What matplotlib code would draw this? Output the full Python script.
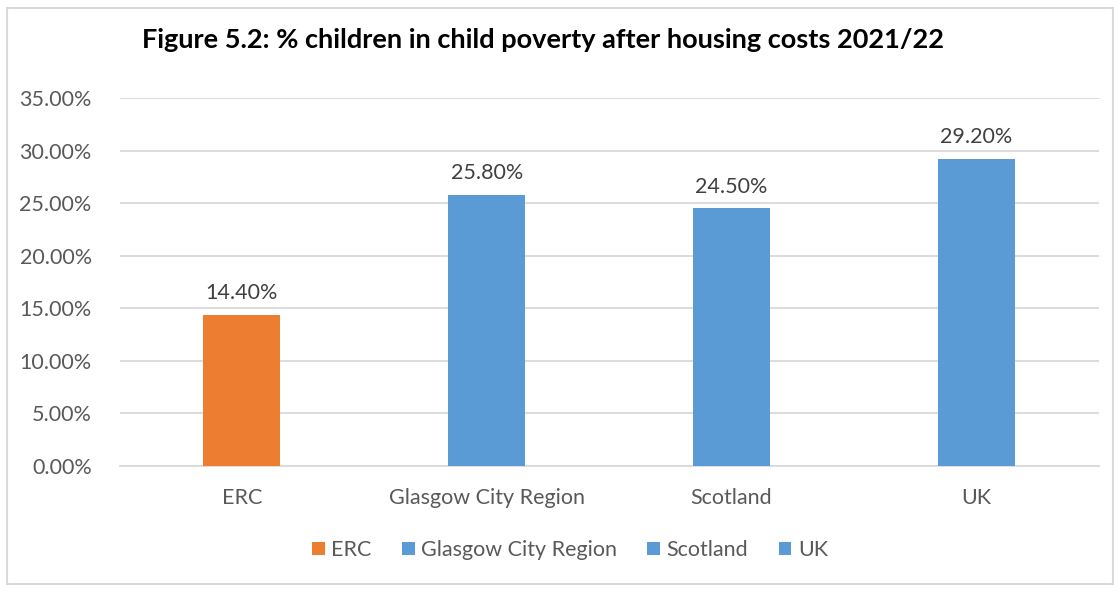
import matplotlib.pyplot as plt
from matplotlib.patches import Rectangle
from matplotlib.ticker import FuncFormatter

categories = ["ERC", "Glasgow City Region", "Scotland", "UK"]
values = [14.40, 25.80, 24.50, 29.20]
colors = ["#ED7D31", "#5B9BD5", "#5B9BD5", "#5B9BD5"]
yticks = [0, 5, 10, 15, 20, 25, 30, 35]

plt.rcParams['font.family'] = ['Lato', 'DejaVu Sans']

fig = plt.figure(figsize=(11.2, 5.92), dpi=100)
ax = fig.add_axes([119.5 / 1120, 1 - 466 / 592, 979 / 1120, 368 / 592])

for i, (cat, val, col) in enumerate(zip(categories, values, colors)):
    ax.bar(i, val, width=0.315, color=col, label=cat, zorder=3)
    ax.text(i, val + 1.1, f"{val:.2f}%", ha="center", va="bottom",
            fontsize=15.5, color="#404040")

ax.set_xlim(-0.5, len(categories) - 0.5)
ax.set_ylim(0, 35)
ax.set_yticks(yticks)
ax.yaxis.set_major_formatter(FuncFormatter(lambda v, p: f"{v:.2f}%"))
ax.set_xticks(range(len(categories)))
ax.set_xticklabels(categories)
ax.tick_params(axis="both", length=0, labelsize=15.5, labelcolor="#595959")
ax.tick_params(axis="y", pad=20)
ax.tick_params(axis="x", pad=16)
ax.grid(axis="y", color="#D9D9D9", linewidth=1.3, zorder=0)
for s in ["top", "right", "left"]:
    ax.spines[s].set_visible(False)
ax.spines["bottom"].set_color("#D9D9D9")
ax.spines["bottom"].set_linewidth(1.3)

fig.text(543 / 1120, 1 - 40 / 592, "Figure 5.2: % children in child poverty after housing costs 2021/22",
         ha="center", va="center", fontsize=19.5, fontweight="bold", color="black")

fig.legend(loc="center", bbox_to_anchor=(570 / 1120, 1 - 550 / 592), ncol=4,
           frameon=False, fontsize=15.5, labelcolor="#595959",
           handlelength=0.6, handleheight=0.6, handletextpad=0.3, columnspacing=1.4)

fig.patches.append(Rectangle((7 / 1120, 8 / 592), 1106 / 1120, 576 / 592,
                             transform=fig.transFigure, fill=False,
                             edgecolor="#D9D9D9", linewidth=1.5))

fig.savefig("out.png", dpi=100)
